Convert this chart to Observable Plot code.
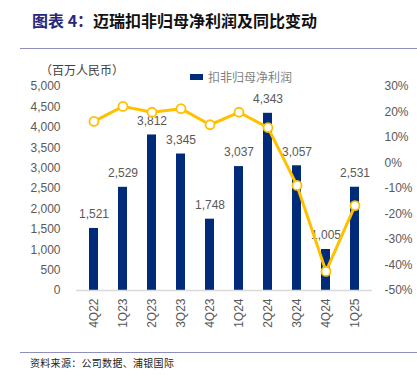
<!DOCTYPE html>
<html>
<head>
<meta charset="utf-8">
<script src="https://cdn.jsdelivr.net/npm/d3@7"></script>
<script src="https://cdn.jsdelivr.net/npm/@observablehq/plot@0.6"></script>
<style>
  html, body { margin: 0; padding: 0; background: #fff; }
  #page { position: relative; width: 417px; height: 375px; overflow: hidden; font-family: "Noto Sans CJK SC", sans-serif; }
  #title { position: absolute; left: 32px; top: 8px; font-size: 16px; font-weight: bold; color: #111; white-space: nowrap; }
  #title .num { color: #27287A; }
  .rule { position: absolute; left: 20px; width: 397px; height: 0; border-top: 1px solid #8E8EBE; }
  #unit { position: absolute; left: 40px; top: 61px; font-size: 12px; color: #404040; white-space: nowrap; }
  #legend { position: absolute; left: 190px; top: 68px; font-size: 12px; color: #7f7f7f; white-space: nowrap; display: flex; align-items: center; }
  #legend .sw { display: inline-block; width: 13px; height: 6px; background: #002A7A; margin-right: 5px; }
  #source { position: absolute; left: 30px; top: 355px; font-size: 10px; color: #222; white-space: nowrap; letter-spacing: 0.3px; }
  #chart { position: absolute; left: 0; top: 60px; }
</style>
</head>
<body>
<div id="page">
  <div id="title"><span class="num">图表 4：</span>迈瑞扣非归母净利润及同比变动</div>
  <div class="rule" style="top:48px"></div>
  <div id="unit">（百万人民币）</div>
  <div id="legend"><span class="sw"></span>扣非归母净利润</div>
  <div id="chart"></div>
  <div class="rule" style="top:352px"></div>
  <div id="source">资料来源：公司数据、浦银国际</div>
</div>
<script>
const quarters = ["4Q22","1Q23","2Q23","3Q23","4Q23","1Q24","2Q24","3Q24","4Q24","1Q25"];
const profit = [1521, 2529, 3812, 3345, 1748, 3037, 4343, 3057, 1005, 2531];
const yoy = [16.3, 22.2, 19.9, 21.3, 15.0, 19.9, 13.9, -8.8, -42.5, -16.7];
const leftTicks = [0, 500, 1000, 1500, 2000, 2500, 3000, 3500, 4000, 4500, 5000];
const rightTicks = [-50, -40, -30, -20, -10, 0, 10, 20, 30];

const leftMax = 5000, rMin = -50, rMax = 30;
const toLeft = p => (p - rMin) / (rMax - rMin) * leftMax;
const fromLeft = v => v / leftMax * (rMax - rMin) + rMin;

const bars = quarters.map((q, i) => ({q, v: profit[i]}));
const line = quarters.map((q, i) => ({q, p: yoy[i], y: toLeft(yoy[i])}));

const chart = Plot.plot({
  width: 417,
  height: 280,
  marginTop: 26,
  marginBottom: 50,
  marginLeft: 76,
  marginRight: 45,
  style: {fontFamily: "'Liberation Sans', Arial, sans-serif", fontSize: "12px", color: "#595959", background: "transparent"},
  x: {domain: quarters, paddingInner: 0.7, paddingOuter: 0.35, axis: null, label: null},
  y: {domain: [0, leftMax], axis: null, label: null},
  marks: [
    Plot.barY(bars, {x: "q", y: "v", fill: "#002A7A"}),
    Plot.ruleY([0], {stroke: "#d9d9d9", strokeWidth: 1.5}),
    Plot.text(bars, {x: "q", y: "v", text: d => d3.format(",")(d.v), dy: -14, fill: "#595959", fontSize: 12}),
    Plot.line(line, {x: "q", y: "y", stroke: "#FFC000", strokeWidth: 3}),
    Plot.dot(line, {x: "q", y: "y", r: 4.5, fill: "white", stroke: "#FFC000", strokeWidth: 1.8}),
    Plot.axisY(leftTicks, {anchor: "left", tickSize: 0, tickPadding: 16, tickFormat: d3.format(","), fill: "#595959", label: null}),
    Plot.axisY(rightTicks.map(toLeft), {anchor: "right", tickSize: 0, tickPadding: 12, tickFormat: d => Math.round(fromLeft(d)) + "%", fill: "#595959", label: null}),
    Plot.axisX({anchor: "bottom", tickRotate: -90, tickSize: 0, tickPadding: 8, fill: "#595959", label: null})
  ]
});
document.getElementById("chart").appendChild(chart);
</script>
</body>
</html>
